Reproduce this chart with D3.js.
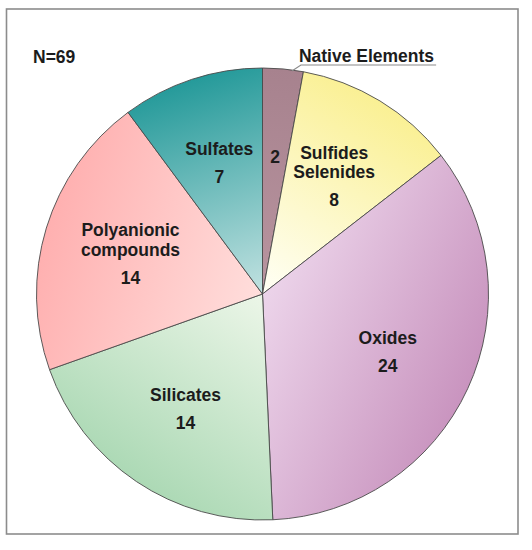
<!DOCTYPE html>
<html>
<head>
<meta charset="utf-8">
<script src="https://cdn.jsdelivr.net/npm/d3@7"></script>
<style>
  body { margin: 0; background: #ffffff; }
</style>
</head>
<body>
<script>
// data
var categories = ["Native Elements", "Sulfides\nSelenides", "Oxides", "Silicates", "Polyanionic\ncompounds", "Sulfates"];
var values = [2, 8, 24, 14, 14, 7];
var innerColors = ["#b8949f", "#fffff6", "#ecd4ea", "#ecf6e8", "#ffdedc", "#c2e2e1"];
var outerColors = ["#a7828e", "#faf094", "#c994bf", "#acd9b5", "#ffb0b0", "#259a9a"];

var width = 532, height = 550;
var cx = 262.5, cy = 294, radius = 226;
var labelRadius = 138;
var text_col = "#1c1c1c";
var font = "bold 17.5px 'Liberation Sans', Arial, sans-serif";

var svg = d3.select("body").append("svg")
	.attr("width", width)
	.attr("height", height)
	.style("display", "block");

// frame
svg.append("rect")
	.attr("x", 6.5).attr("y", 9)
	.attr("width", 511.5).attr("height", 525)
	.style("fill", "#ffffff")
	.style("stroke", "#8c8c8c")
	.style("stroke-width", 1.6);

var pie = d3.pie().sort(null).value(function (d) { return d; });
var arcs = pie(values);

var arc = d3.arc().innerRadius(0).outerRadius(radius);

// gradient per slice, from centre out along its bisector
var defs = svg.append("defs");
arcs.forEach(function (a, i) {
	var mid = (a.startAngle + a.endAngle) / 2;
	defs.append("linearGradient")
		.attr("id", "grad" + i)
		.attr("gradientUnits", "userSpaceOnUse")
		.attr("x1", cx).attr("y1", cy)
		.attr("x2", cx + Math.sin(mid) * radius)
		.attr("y2", cy - Math.cos(mid) * radius)
		.selectAll("stop")
		.data([[0, innerColors[i]], [1, outerColors[i]]])
		.enter().append("stop")
		.attr("offset", function (d) { return d[0]; })
		.attr("stop-color", function (d) { return d[1]; });
});

var g = svg.append("g").attr("transform", "translate(" + cx + "," + cy + ")");

g.selectAll("path.slice")
	.data(arcs)
	.enter().append("path")
	.attr("class", "slice")
	.attr("d", arc)
	.attr("transform", "translate(" + (-cx) + "," + (-cy) + ")")
	.attr("transform", null)
	.style("fill", function (d, i) { return "url(#grad" + i + ")"; })
	.style("stroke", "#4a4a4a")
	.style("stroke-width", 0.9);

// gradients use page coords, so shift them into the group
defs.selectAll("linearGradient").attr("gradientTransform", "translate(" + (-cx) + "," + (-cy) + ")");

// labels inside slices
var lineH = 19.5, valueGap = 28, capH = 12.6;
arcs.forEach(function (a, i) {
	var mid = (a.startAngle + a.endAngle) / 2;
	var px = Math.sin(mid) * labelRadius;
	var py = -Math.cos(mid) * labelRadius;
	var lines = i === 0 ? [] : categories[i].split("\n");
	var baselines = lines.map(function (l, k) { return k * lineH; });
	var last = lines.length ? (lines.length - 1) * lineH + valueGap : 0;
	var offset = py - (last - capH) / 2;
	lines.forEach(function (l, k) {
		g.append("text")
			.text(l)
			.attr("x", px)
			.attr("y", offset + baselines[k])
			.attr("text-anchor", "middle")
			.style("font", font)
			.style("fill", text_col);
	});
	g.append("text")
		.text(values[i])
		.attr("x", px)
		.attr("y", offset + last)
		.attr("text-anchor", "middle")
		.style("font", font)
		.style("fill", text_col);
});

// Native Elements label outside with leader line
var a0 = arcs[0];
var ang = a0.startAngle + 0.72 * (a0.endAngle - a0.startAngle);
var sx = Math.sin(ang) * (radius - 1), sy = -Math.cos(ang) * (radius - 1);
var lbl = g.append("text")
	.text(categories[0])
	.attr("x", sx + 7)
	.attr("y", sy - 9)
	.style("font", font)
	.style("fill", text_col);
var tw = lbl.node().getComputedTextLength();
g.append("path")
	.attr("d", "M" + sx + "," + sy + "L" + (sx + 9) + "," + (sy - 6) + "H" + (sx + 9 + tw))
	.style("fill", "none")
	.style("stroke", "#8a8a8a")
	.style("stroke-width", 1.1);

// N
svg.append("text")
	.text("N=" + d3.sum(values))
	.attr("x", 33)
	.attr("y", 63)
	.style("font", font)
	.style("fill", text_col);
</script>
</body>
</html>
